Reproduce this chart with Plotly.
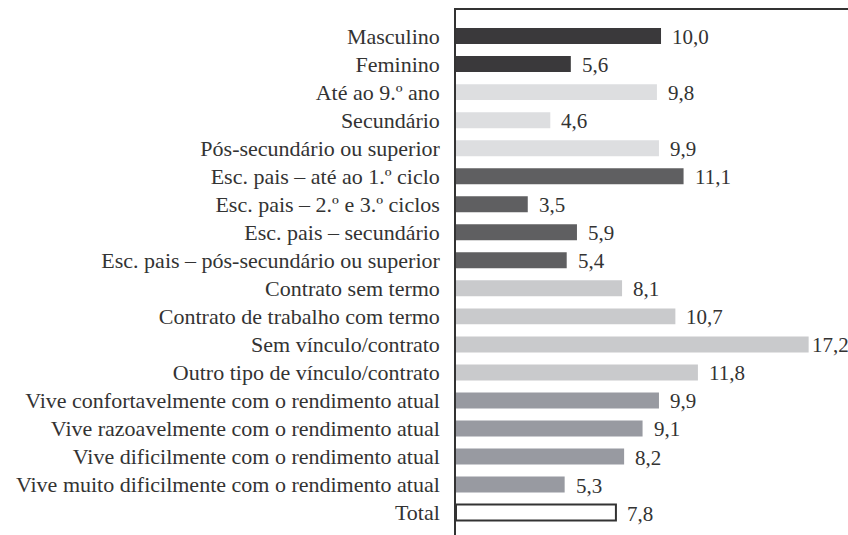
import plotly.graph_objects as go

categories = [
    "Masculino", "Feminino", "Até ao 9.º ano", "Secundário",
    "Pós-secundário ou superior", "Esc. pais – até ao 1.º ciclo",
    "Esc. pais – 2.º e 3.º ciclos", "Esc. pais – secundário",
    "Esc. pais – pós-secundário ou superior", "Contrato sem termo",
    "Contrato de trabalho com termo", "Sem vínculo/contrato",
    "Outro tipo de vínculo/contrato",
    "Vive confortavelmente com o rendimento atual",
    "Vive razoavelmente com o rendimento atual",
    "Vive dificilmente com o rendimento atual",
    "Vive muito dificilmente com o rendimento atual", "Total",
]
values = [10.0, 5.6, 9.8, 4.6, 9.9, 11.1, 3.5, 5.9, 5.4, 8.1, 10.7, 17.2, 11.8, 9.9, 9.1, 8.2, 5.3, 7.8]
group_colors = (["#3a393b"] * 2 + ["#dddee0"] * 3 + ["#5f5f61"] * 4 +
                ["#c9cacc"] * 4 + ["#989aa1"] * 4 + ["#ffffff"])
line_widths = [0] * 17 + [2]

FONT = "'Liberation Serif', 'DejaVu Serif', serif"
TXT = "#333333"

fig = go.Figure(go.Bar(
    y=categories, x=values, orientation="h",
    marker=dict(color=group_colors, line=dict(color="#333333", width=line_widths)),
    width=0.57, hoverinfo="skip",
))

for c, v in zip(categories, values):
    fig.add_annotation(x=v, y=c, text=f"{v:.1f}".replace(".", ","), showarrow=False,
                       xanchor="left", xshift=(1 if v > 17 else 9), yshift=-1,
                       font=dict(family=FONT, size=21, color=TXT))

fig.update_layout(
    width=848, height=535,
    margin=dict(l=456, r=0, t=10, b=0),
    paper_bgcolor="white", plot_bgcolor="white",
    showlegend=False,
    font=dict(family=FONT, size=21, color=TXT),
    xaxis=dict(side="top", range=[0, 19.12], showline=True, linecolor="#333333", linewidth=1.5,
               showticklabels=False, showgrid=False, zeroline=False, ticks="", automargin=False),
    yaxis=dict(type="category", range=[17.8, -0.93], showline=True, linecolor="#333333",
               linewidth=1.5, showgrid=False, zeroline=False, ticks="", ticklabelstandoff=10,
               automargin=False, tickfont=dict(family=FONT, size=22, color=TXT)),
)

fig.write_html("out.html",
               config={"displayModeBar": False},
               post_script="document.body.style.margin='0';document.body.style.padding='0';"
                           "document.documentElement.style.overflow='hidden';")
